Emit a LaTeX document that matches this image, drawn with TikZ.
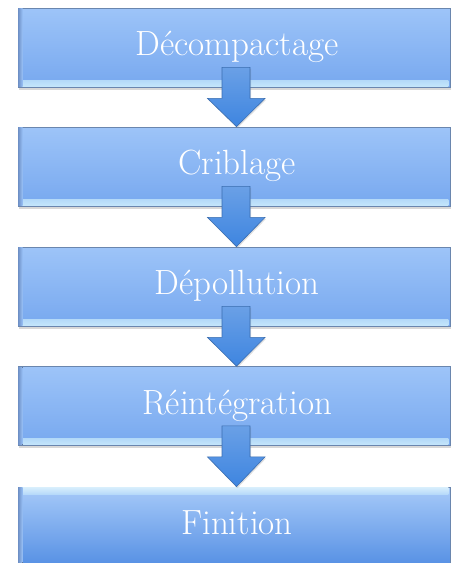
\documentclass[tikz,border=0pt]{standalone}
\usetikzlibrary{shadows}
\definecolor{boxtop}{HTML}{9DC4F8}
\definecolor{boxbot}{HTML}{77A8EF}
\definecolor{boxedge}{HTML}{6A86AE}
\definecolor{bevel}{HTML}{C4E6FB}
\definecolor{sidedark}{HTML}{6E90C6}
\definecolor{arrtop}{HTML}{6AA0E6}
\definecolor{arrbot}{HTML}{3E85E0}
\definecolor{arredge}{HTML}{3A6DB0}
\definecolor{lastbot}{HTML}{5690E4}
\tikzset{
  stepbox/.style={rectangle, minimum width=432pt, minimum height=79pt, inner sep=0pt,
    top color=boxtop, bottom color=boxbot, draw=boxedge, line width=0.8pt,
    drop shadow={opacity=0.3, shadow xshift=1pt, shadow yshift=-2.5pt}},
  laststep/.style={stepbox, top color=boxtop!90!white, bottom color=lastbot},
  steplabel/.style={text=white, font=\fontsize{35}{38}\selectfont, text height=24pt, text depth=8pt, inner sep=0pt},
  bevelstrip/.style={top color=bevel!80!boxbot, bottom color=bevel},
  topbevel/.style={top color=bevel!70!white, bottom color=bevel!60!boxtop},
  sidestrip/.style={left color=sidedark, right color=boxtop!90!boxbot},
  flowarrowstyle/.style={top color=arrtop, bottom color=arrbot, draw=arredge, line width=0.6pt,
    drop shadow={opacity=0.25, shadow xshift=1pt, shadow yshift=-1.5pt}}
}
\newcommand\flowarrow[2]{%
  \path[flowarrowstyle] ([xshift=-12pt,yshift=20pt]#1.south) -- ([xshift=-12pt,yshift=-11pt]#1.south)
    -- ([xshift=-26.5pt,yshift=-11pt]#1.south) -- ([xshift=2.5pt]#2.north)
    -- ([xshift=31pt,yshift=-11pt]#1.south) -- ([xshift=16pt,yshift=-11pt]#1.south)
    -- ([xshift=16pt,yshift=20pt]#1.south) -- cycle;}
\newcommand\boxdeco[1]{%
  \fill[bevelstrip] ([xshift=2pt,yshift=1pt]#1.south west) rectangle ([xshift=-2pt,yshift=7pt]#1.south east);
  \fill[sidestrip] ([xshift=0.5pt,yshift=1pt]#1.south west) rectangle ([xshift=5pt,yshift=-1pt]#1.north west);}
\begin{document}
\begin{tikzpicture}[x=1pt,y=-1pt]
\useasboundingbox[fill=white] (0,0) rectangle (452,563);
\node[stepbox] (b1) at (234,47.5) {};
\node[stepbox] (b2) at (234,166.5) {};
\node[stepbox] (b3) at (234,286.5) {};
\node[stepbox] (b4) at (234,406) {};
\node[laststep] (b5) at (234,526.5) {};
\boxdeco{b1}
\boxdeco{b2}
\boxdeco{b3}
\boxdeco{b4}
\fill[topbevel] ([xshift=2pt,yshift=-1pt]b5.north west) rectangle ([xshift=-2pt,yshift=-8pt]b5.north east);
\fill[sidestrip] ([xshift=0.5pt,yshift=1pt]b5.south west) rectangle ([xshift=5pt,yshift=-1pt]b5.north west);
\node[steplabel] (t1) at ([xshift=3pt]b1.center) {Décompactage};
\node[steplabel] (t2) at ([xshift=3pt]b2.center) {Criblage};
\node[steplabel] (t3) at ([xshift=3pt]b3.center) {Dépollution};
\node[steplabel] (t4) at ([xshift=3pt]b4.center) {Réintégration};
\node[steplabel] (t5) at ([xshift=3pt]b5.center) {Finition};
\flowarrow{b1}{b2}
\flowarrow{b2}{b3}
\flowarrow{b3}{b4}
\flowarrow{b4}{b5}
\end{tikzpicture}
\end{document}
